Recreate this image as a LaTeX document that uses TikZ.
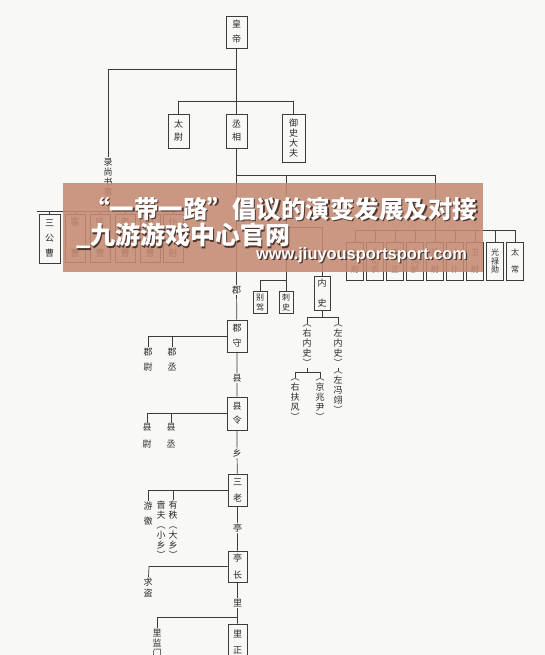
\documentclass[tikz,border=0pt]{standalone}
\usepackage{fontspec}
\newfontfamily\cjk{Noto Sans CJK SC}
\newfontfamily\latf{Liberation Sans}
\definecolor{bgc}{RGB}{248,248,246}
\definecolor{linec}{RGB}{60,60,60}
\definecolor{txtc}{RGB}{40,40,40}
\definecolor{bannerc}{RGB}{196,138,114}
\definecolor{shadc}{RGB}{55,38,32}
\tikzset{
  bx/.style={draw=linec, line width=0.8pt, fill=bgc, inner sep=0pt, align=center, text=txtc,
    font=\cjk\fontsize{9}{10}\selectfont},
  sbx/.style={bx, font=\cjk\fontsize{8}{8.5}\selectfont},
  lab/.style={inner sep=1pt, text=txtc, font=\cjk\fontsize{9}{10}\selectfont},
  vt/.style={inner sep=0.8pt, align=center, text=txtc, font=\cjk\fontsize{9}{10}\selectfont},
  ln/.style={draw=linec, line width=0.7pt},
  bt/.style={inner sep=0pt, anchor=west, text=white},
  bts/.style={inner sep=0pt, anchor=west, text=shadc, opacity=0.85, xshift=1.3pt, yshift=-1.3pt},
}
\begin{document}
\begin{tikzpicture}[x=1pt,y=-1pt]
\useasboundingbox (0,0) rectangle (545,655);
\fill[bgc] (0,0) rectangle (545,655);
\clip (0,0) rectangle (545,655);

% top level
\node[bx, minimum width=21, minimum height=32] (huangdi) at (236.5,32) {皇\\[5pt]帝};
\node[bx, minimum width=21, minimum height=34] (taiwei) at (178.5,131) {太\\[3pt]尉};
\node[bx, minimum width=21, minimum height=34] (chengxiang) at (236.5,131) {丞\\[3pt]相};
\node[bx, minimum width=23, minimum height=48] (yushi) at (293.5,138) {御\\史\\大\\夫};

\coordinate (jA) at (236.5,69);
\coordinate (jL) at (108,69);
\coordinate (jB1) at (178.5,101);
\coordinate (jB2) at (293.5,101);
\draw[ln] (huangdi) -- (chengxiang);
\draw[ln] (jA) -- (jL);
\draw[ln] (jB1) -- (jB2);
\draw[ln] (jB1) -- (taiwei);
\draw[ln] (jB2) -- (yushi);

% lu shang shu shi
\node[vt] (lushang) at (108,177) {录\\尚\\书\\事};
\coordinate (jS) at (108,211);
\coordinate (jSL) at (37,211);
\coordinate (jSR) at (176,211);
\draw[ln] (jL) -- (lushang);
\draw[ln] (lushang) -- (jS);
\draw[ln] (jSL) -- (jSR);
\node[bx, minimum width=21, minimum height=49] (sangong) at (49.5,238.5) {三\\[5pt]公\\[5pt]曹};
\node[bx, minimum width=20, minimum height=48] (kecao) at (75,238) {客\\[21pt]曹};
\node[bx, minimum width=20, minimum height=48] (mincao) at (100,238) {民\\[21pt]曹};
\node[bx, minimum width=20, minimum height=48] (licao) at (125,238) {吏\\[21pt]曹};
\node[bx, minimum width=20, minimum height=48] (hucao) at (150,238) {户\\[21pt]曹};
\node[bx, minimum width=20, minimum height=48] (puye) at (173,238) {仆\\[21pt]射};
\foreach \b in {sangong,kecao,mincao,licao,hucao,puye}{
  \draw[ln] (\b.north |- jS) -- (\b.north);
}

% nine ministers
\coordinate (jC) at (236.5,175);
\coordinate (jCR) at (435,175);
\coordinate (jD) at (435,230);
\coordinate (jDL) at (355,230);
\coordinate (jDR) at (515,230);
\draw[ln] (jC) -- (jCR) -- (jD);
\draw[ln] (jDL) -- (jDR);
\node[sbx, minimum width=17, minimum height=38] (q1) at (355,261) {少\\[8.5pt]府};
\node[sbx, minimum width=17, minimum height=38] (q2) at (375,261) {大\\司\\农};
\node[sbx, minimum width=17, minimum height=38] (q3) at (395,261) {宗\\[8.5pt]正};
\node[sbx, minimum width=17, minimum height=38] (q4) at (415,261) {大\\鸿\\胪};
\node[sbx, minimum width=17, minimum height=38] (q5) at (435,261) {廷\\[8.5pt]尉};
\node[sbx, minimum width=17, minimum height=38] (q6) at (455,261) {太\\[8.5pt]仆};
\node[sbx, minimum width=17, minimum height=38] (q7) at (475,261) {卫\\[8.5pt]尉};
\node[sbx, minimum width=17, minimum height=38] (q8) at (495,261) {光\\禄\\勋};
\node[sbx, minimum width=17, minimum height=38] (q9) at (515,261) {太\\[8.5pt]常};
\foreach \b in {q1,q2,q3,q4,q5,q6,q7,q8,q9}{
  \draw[ln] (\b.north |- jD) -- (\b.north);
}

% cishi, neishi
\node[sbx, minimum width=14, minimum height=22] (biejia) at (260,302.5) {别\\[1.5pt]驾};
\node[sbx, minimum width=14, minimum height=22] (cishi) at (286,302.5) {刺\\[1.5pt]史};
\node[bx, minimum width=16, minimum height=34] (neishi) at (322,293) {内\\[10pt]史};
\coordinate (jE0) at (286,175);
\coordinate (jE) at (286,227);
\coordinate (jER) at (322,227);
\coordinate (jF) at (286,280);
\coordinate (jFL) at (260,280);
\draw[ln] (jE0) -- (cishi);
\draw[ln] (jE) -- (jER) -- (neishi);
\draw[ln] (jF) -- (jFL) -- (biejia);

\node[vt] (younei) at (307,346) {︵\\右\\内\\史\\︶};
\node[vt] (zuonei) at (338,346) {︵\\左\\内\\史\\︶};
\node[vt] (youfu) at (295,400) {︵\\右\\扶\\风\\︶};
\node[vt] (jingzhao) at (320,400) {︵\\京\\兆\\尹\\︶};
\node[vt] (zuofeng) at (338,393) {︵\\左\\冯\\翊\\︶};
\coordinate (jG) at (322,317);
\coordinate (jGL) at (307,317);
\coordinate (jGR) at (338,317);
\coordinate (jH) at (307,372);
\coordinate (jHL) at (295,372);
\coordinate (jHR) at (320,372);
\draw[ln] (neishi) -- (jG);
\draw[ln] (jGL) -- (jGR);
\draw[ln] (jGL) -- (younei);
\draw[ln] (jGR) -- (zuonei);
\draw[ln] (younei) -- (jH);
\draw[ln] (jHL) -- (jHR);
\draw[ln] (jHL) -- (youfu);
\draw[ln] (jHR) -- (jingzhao);
\draw[ln] (zuonei) -- (zuofeng);

% main local chain
\node[lab] (ljun) at (236.5,290) {郡};
\node[bx, minimum width=20, minimum height=32] (junshou) at (237,336) {郡\\[5pt]守};
\node[lab] (lxian) at (237,378) {县};
\node[bx, minimum width=20, minimum height=33] (xianling) at (237,413.5) {县\\[4pt]令};
\node[lab] (lxiang) at (237,453) {乡};
\node[bx, minimum width=19, minimum height=32] (sanlao) at (237.5,490) {三\\[6pt]老};
\node[lab] (lting) at (237.5,528) {亭};
\node[bx, minimum width=19, minimum height=31] (tingzhang) at (237.5,566.5) {亭\\[7pt]长};
\node[lab] (lli) at (237.5,603) {里};
\node[bx, minimum width=19, minimum height=36] (lizheng) at (237.5,642) {里\\[6pt]正};
\draw[ln] (chengxiang) -- (ljun) -- (junshou) -- (lxian) -- (xianling) -- (lxiang) -- (sanlao) -- (lting) -- (tingzhang) -- (lli) -- (lizheng);

% side officials
\node[vt] (junwei) at (148,359.5) {郡\\[5pt]尉};
\node[vt] (juncheng) at (172,359.5) {郡\\[5pt]丞};
\coordinate (jJ1) at (148,336);
\coordinate (jJ2) at (172,336);
\draw[ln] (junshou) -- (jJ1) -- (junwei);
\draw[ln] (jJ2) -- (juncheng);

\node[vt] (xianwei) at (147,436) {县\\[7pt]尉};
\node[vt] (xiancheng) at (171,436) {县\\[7pt]丞};
\coordinate (jK1) at (147,413.5);
\coordinate (jK2) at (171,413.5);
\draw[ln] (xianling) -- (jK1) -- (xianwei);
\draw[ln] (jK2) -- (xiancheng);

\node[vt] (youjiao) at (148,513.5) {游\\[5pt]徼};
\node[vt] (youzhi) at (173,530) {有\\秩\\︵\\大\\乡\\︶};
\node[vt] (sefu) at (161,530) {啬\\夫\\︵\\小\\乡\\︶};
\coordinate (jM1) at (148,490);
\coordinate (jM2) at (173,490);
\draw[ln] (sanlao) -- (jM1) -- (youjiao);
\draw[ln] (jM2) -- (youzhi);

\node[vt] (qiudao) at (148,587.5) {求\\[1pt]盗};
\coordinate (jN1) at (149,566.5);
\draw[ln] (tingzhang) -- (jN1) -- (qiudao);

\node[vt] (lijianmen) at (157,643) {里\\监\\门};
\coordinate (jP) at (237.5,617);
\coordinate (jP1) at (157,617);
\draw[ln] (jP) -- (jP1) -- (lijianmen);

% banner overlay
\fill[bannerc, opacity=0.88] (63,183) rectangle (483,272);
\node[bts, font=\cjk\bfseries\fontsize{24.5}{24}\selectfont] (t1s) at (85,209) {“一带一路”倡议的演变发展及对接};
\node[bt, font=\cjk\bfseries\fontsize{24.5}{24}\selectfont] (t1) at (85,209) {“一带一路”倡议的演变发展及对接};
\node[bts, font=\cjk\bfseries\fontsize{25}{24}\selectfont] (t2s) at (76,236) {\_九游游戏中心官网};
\node[bt, font=\cjk\bfseries\fontsize{25}{24}\selectfont] (t2) at (76,236) {\_九游游戏中心官网};
\node[bts, font=\latf\bfseries\fontsize{16.4}{16.4}\selectfont] (t3s) at (256,255) {www.jiuyousportsport.com};
\node[bt, font=\latf\bfseries\fontsize{16.4}{16.4}\selectfont] (t3) at (256,255) {www.jiuyousportsport.com};
\end{tikzpicture}
\end{document}
